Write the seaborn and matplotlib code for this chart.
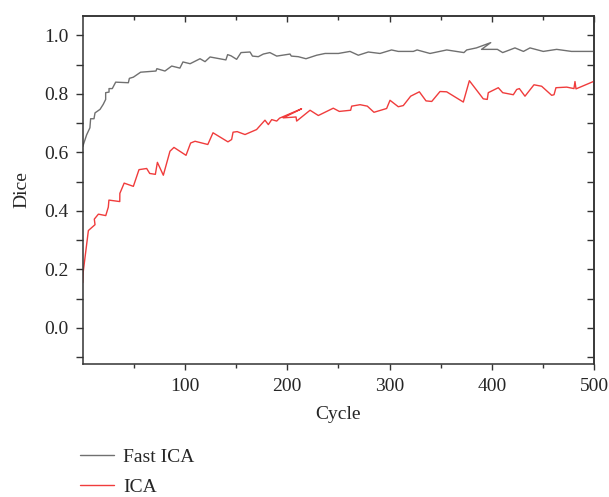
import numpy as np
import pandas as pd
import matplotlib
matplotlib.use("Agg")
import matplotlib.pyplot as plt
import seaborn as sns
from matplotlib.ticker import MultipleLocator, FixedLocator

# ---- data ----
fast_x = [0, 3.8, 7, 7.7, 11, 12, 16.9, 20, 22.4, 22.4, 25.7, 25.7, 28.9, 32.2, 44.6, 45.6, 49.5, 56.6,
          71.6, 72.5, 80.4, 87, 95, 98, 105, 114.7, 119.6, 124.5, 140, 141.7, 145, 150.5, 154.8, 163.6,
          166, 171.7, 176.6, 183, 189.7, 202.7, 204, 210.8, 218.3, 228.8, 237, 250, 261.4, 269.5, 279.3,
          290.7, 302, 308.6, 323.3, 327, 339.6, 356, 372.8, 375.5, 385, 399, 390, 405.5, 410.7, 422.7,
          431, 437.4, 450.4, 463.5, 478, 500]
fast_y = [0.62, 0.66, 0.684, 0.715, 0.715, 0.735, 0.747, 0.764, 0.781, 0.804, 0.806, 0.818, 0.818, 0.84,
          0.838, 0.853, 0.857, 0.874, 0.878, 0.886, 0.878, 0.895, 0.888, 0.909, 0.903, 0.92, 0.91, 0.926,
          0.916, 0.934, 0.93, 0.918, 0.941, 0.943, 0.929, 0.927, 0.936, 0.941, 0.929, 0.936, 0.929, 0.927,
          0.92, 0.932, 0.938, 0.938, 0.945, 0.932, 0.943, 0.938, 0.95, 0.945, 0.945, 0.95, 0.938, 0.95,
          0.941, 0.95, 0.957, 0.975, 0.952, 0.952, 0.941, 0.957, 0.945, 0.957, 0.945, 0.952, 0.945, 0.945]

ica_x = [0, 0.4, 5.5, 12, 11.3, 15.3, 22.5, 25, 25.6, 36.2, 36.3, 40.5, 49.5, 55, 62.5, 65.5, 71, 73,
         78.8, 85.3, 89.2, 101, 105.5, 109.8, 122.3, 127.4, 142, 145.6, 147, 151, 158.7, 170, 178.2,
         181.5, 184.8, 189.7, 192.5, 214, 196, 208.6, 209.2, 222.3, 230.4, 245, 250.9, 262, 263, 271.2,
         278.3, 284.8, 297.2, 300.5, 308.6, 313.5, 320.7, 329.2, 335.7, 341.3, 349.4, 355.9, 372.2,
         378.1, 391.7, 395.6, 396.6, 406.4, 410.7, 421.1, 424.4, 427, 432.5, 441.3, 448.8, 458.6,
         460.9, 462.8, 473.3, 480.4, 481.4, 482.4, 500]
ica_y = [0.155, 0.19, 0.333, 0.353, 0.372, 0.389, 0.384, 0.413, 0.437, 0.432, 0.46, 0.495, 0.484, 0.541,
         0.545, 0.528, 0.525, 0.566, 0.522, 0.604, 0.617, 0.59, 0.632, 0.638, 0.627, 0.667, 0.636, 0.644,
         0.669, 0.671, 0.661, 0.678, 0.71, 0.695, 0.712, 0.707, 0.717, 0.749, 0.718, 0.721, 0.707, 0.744,
         0.726, 0.751, 0.74, 0.744, 0.758, 0.763, 0.758, 0.737, 0.75, 0.778, 0.756, 0.76, 0.792, 0.807,
         0.776, 0.774, 0.808, 0.807, 0.772, 0.845, 0.783, 0.781, 0.804, 0.821, 0.804, 0.797, 0.815,
         0.818, 0.792, 0.831, 0.826, 0.795, 0.797, 0.821, 0.823, 0.818, 0.842, 0.817, 0.843]

labels = ["Fast ICA", "ICA"]
colors = ["#707070", "#f03c3c"]

df = pd.concat([
    pd.DataFrame({"Cycle": fast_x, "Dice": fast_y, "Method": labels[0]}),
    pd.DataFrame({"Cycle": ica_x, "Dice": ica_y, "Method": labels[1]}),
], ignore_index=True)

sns.set_style("ticks")
plt.rcParams["font.family"] = ["Liberation Serif", "DejaVu Serif"]
plt.rcParams["font.size"] = 14

fig = plt.figure(figsize=(6.09, 4.97), dpi=100)
ax = fig.add_axes([82.75 / 609, 1 - 364 / 497, (594 - 82.75) / 609, (364 - 16) / 497])

sns.lineplot(data=df, x="Cycle", y="Dice", hue="Method", palette=dict(zip(labels, colors)),
             sort=False, estimator=None, linewidth=1.0, ax=ax, legend=True)

ax.set_xlim(0, 500)
ax.set_ylim(-0.123, 1.066)
ax.xaxis.set_major_locator(FixedLocator([100, 200, 300, 400, 500]))
ax.xaxis.set_minor_locator(FixedLocator([50, 150, 250, 350, 450]))
ax.yaxis.set_major_locator(FixedLocator([0.0, 0.2, 0.4, 0.6, 0.8, 1.0]))
ax.yaxis.set_minor_locator(FixedLocator([-0.1, 0.1, 0.3, 0.5, 0.7, 0.9]))
ax.yaxis.set_major_formatter(matplotlib.ticker.FormatStrFormatter("%.1f"))

for s in ax.spines.values():
    s.set_linewidth(1.1)
    s.set_color("#333333")
ax.tick_params(axis="y", which="both", direction="out", length=5, width=1.0, color="#333333",
               labelsize=14, pad=5)
ax.tick_params(axis="x", which="major", direction="out", length=4, width=1.0, color="#333333",
               labelsize=14, pad=6)
ax.tick_params(axis="x", which="minor", direction="out", length=3, width=1.0, color="#333333")

# mirrored inward ticks on right and top
axr = ax.secondary_yaxis("right")
axr.yaxis.set_major_locator(FixedLocator([0.0, 0.2, 0.4, 0.6, 0.8, 1.0]))
axr.yaxis.set_minor_locator(FixedLocator([-0.1, 0.1, 0.3, 0.5, 0.7, 0.9]))
axr.tick_params(which="both", direction="in", length=5, width=1.0, color="#333333", labelright=False)
axr.spines["right"].set_linewidth(1.1)
axr.spines["right"].set_color("#333333")
axt = ax.secondary_xaxis("top")
axt.xaxis.set_major_locator(FixedLocator([100, 200, 300, 400, 500]))
axt.xaxis.set_minor_locator(FixedLocator([50, 150, 250, 350, 450]))
axt.tick_params(which="major", direction="in", length=4, width=1.0, color="#333333", labeltop=False)
axt.tick_params(which="minor", direction="in", length=3, width=1.0, color="#333333")
axt.spines["top"].set_linewidth(1.1)
axt.spines["top"].set_color("#333333")

ax.set_xlabel("Cycle", fontsize=14, labelpad=8)
ax.set_ylabel("Dice", fontsize=14, labelpad=10)

handles, lbls = ax.get_legend_handles_labels()
ax.get_legend().remove()
fig.legend(handles, lbls, loc="upper left", bbox_to_anchor=(80 / 609, 1 - 448 / 497),
           frameon=False, fontsize=14, handlelength=1.75, handletextpad=0.45,
           labelspacing=0.65, borderpad=0, borderaxespad=0)

fig.savefig("out.png", dpi=100)
